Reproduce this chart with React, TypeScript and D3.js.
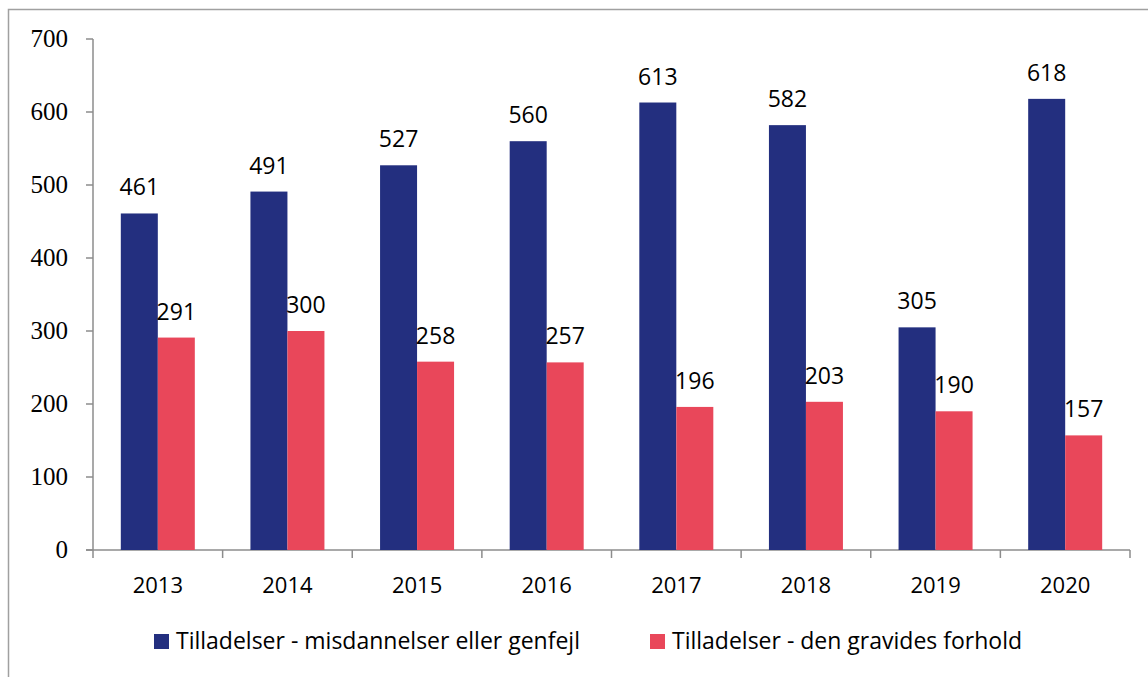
import React, { useEffect, useRef } from "react";
import * as d3 from "d3";

const years = ["2013", "2014", "2015", "2016", "2017", "2018", "2019", "2020"];
const misdannelser = [461, 491, 527, 560, 613, 582, 305, 618];
const gravides = [291, 300, 258, 257, 196, 203, 190, 157];
const seriesNames = [
  "Tilladelser - misdannelser eller genfejl",
  "Tilladelser - den gravides forhold",
];
const yTicks = [0, 100, 200, 300, 400, 500, 600, 700];

const colors = ["#232F7F", "#E9475A"];

export default function App() {
  const svgRef = useRef<SVGSVGElement>(null);

  useEffect(() => {
    const width = 1148, height = 677;
    const svg = d3.select(svgRef.current);
    svg.selectAll("*").remove();

    const left = 93, right = 1130, top = 39, bottom = 550;
    const axisColor = "#8c8c8c";

    // frame
    svg.append("path")
      .attr("d", `M8.5,${height} V9.5 H${width}`)
      .attr("fill", "none")
      .attr("stroke", "#a0a0a0")
      .attr("stroke-width", 1.5);

    const x = d3.scaleBand().domain(years).range([left, right]);
    const y = d3.scaleLinear().domain([0, 700]).range([bottom, top]);
    const barW = 37;

    // y axis
    const yg = svg.append("g");
    yg.append("line")
      .attr("x1", left).attr("x2", left)
      .attr("y1", top).attr("y2", bottom)
      .attr("stroke", axisColor).attr("stroke-width", 1.5);
    yg.selectAll(".ytick")
      .data(yTicks)
      .join("line")
      .attr("x1", left - 7).attr("x2", left)
      .attr("y1", d => y(d)).attr("y2", d => y(d))
      .attr("stroke", axisColor).attr("stroke-width", 1.5);
    yg.selectAll(".ylab")
      .data(yTicks)
      .join("text")
      .attr("x", 68)
      .attr("y", d => y(d) + 8)
      .attr("text-anchor", "end")
      .style("font-family", "'Liberation Serif', 'DejaVu Serif', serif")
      .style("font-size", "25px")
      .attr("fill", "#000")
      .text(d => d);

    // x axis
    const xg = svg.append("g");
    xg.append("line")
      .attr("x1", left - 7).attr("x2", right)
      .attr("y1", bottom).attr("y2", bottom)
      .attr("stroke", axisColor).attr("stroke-width", 1.5);
    const xTickPos = years.map(yr => x(yr) as number).concat([right]);
    xg.selectAll(".xtick")
      .data(xTickPos)
      .join("line")
      .attr("x1", d => d).attr("x2", d => d)
      .attr("y1", bottom).attr("y2", bottom + 8)
      .attr("stroke", axisColor).attr("stroke-width", 1.5);
    xg.selectAll(".xlab")
      .data(years)
      .join("text")
      .attr("x", d => (x(d) as number) + x.bandwidth() / 2)
      .attr("y", 593)
      .attr("text-anchor", "middle")
      .style("font-family", "'Open Sans', sans-serif")
      .style("font-size", "22px")
      .attr("fill", "#000")
      .text(d => d);

    const series = [misdannelser, gravides];
    series.forEach((vals, si) => {
      const g = svg.append("g");
      const bx = (i: number) => (x(years[i]) as number) + x.bandwidth() / 2 - barW + si * barW;
      g.selectAll("rect")
        .data(vals)
        .join("rect")
        .attr("x", (d, i) => bx(i))
        .attr("y", d => y(d))
        .attr("width", barW)
        .attr("height", d => bottom - y(d))
        .attr("fill", colors[si]);
      g.selectAll("text")
        .data(vals)
        .join("text")
        .attr("x", (d, i) => bx(i) + barW / 2)
        .attr("y", d => y(d) - 18)
        .attr("text-anchor", "middle")
        .style("font-family", "'Open Sans', sans-serif")
        .style("font-size", "23px")
        .attr("fill", "#000")
        .text(d => d);
    });

    // legend
    const legendX = [154, 650];
    const lg = svg.append("g");
    seriesNames.forEach((name, i) => {
      lg.append("rect")
        .attr("x", legendX[i]).attr("y", 634)
        .attr("width", 15).attr("height", 15)
        .attr("fill", colors[i]);
      lg.append("text")
        .attr("x", legendX[i] + 22)
        .attr("y", 649)
        .style("font-family", "'Open Sans', sans-serif")
        .style("font-size", "23px")
        .attr("fill", "#000")
        .text(name);
    });
  }, []);

  return (
    <svg
      ref={svgRef}
      width={1148}
      height={677}
      style={{ position: "absolute", left: 0, top: 0, background: "#fff" }}
    ></svg>
  );
}
